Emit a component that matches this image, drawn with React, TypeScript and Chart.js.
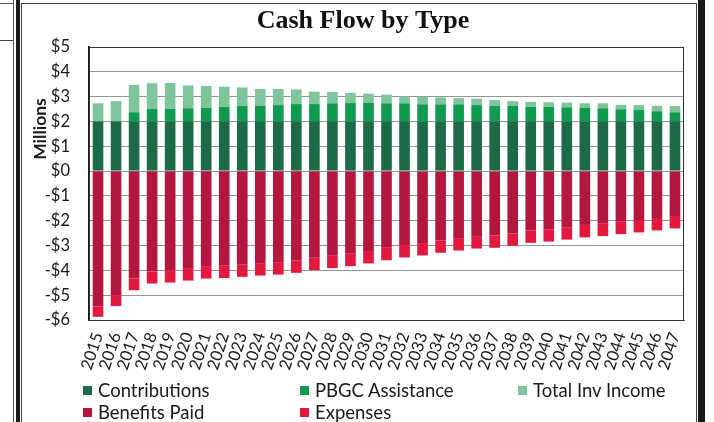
import React, { useEffect, useRef } from "react";
import { Chart, registerables } from "chart.js";

Chart.register(...registerables);

// Plan years on the category axis
const years = [
  "2015", "2016", "2017", "2018", "2019", "2020", "2021", "2022", "2023", "2024", "2025",
  "2026", "2027", "2028", "2029", "2030", "2031", "2032", "2033", "2034", "2035", "2036",
  "2037", "2038", "2039", "2040", "2041", "2042", "2043", "2044", "2045", "2046", "2047",
];

// Inflows, $ millions
const contributions = [
  2.0, 2.0, 2.0, 2.0, 2.0, 2.0, 2.0, 2.0, 2.0, 2.0, 2.0,
  2.0, 2.0, 2.0, 2.0, 2.0, 2.0, 2.0, 2.0, 2.0, 2.0, 2.0,
  2.0, 2.0, 2.0, 2.0, 2.0, 2.0, 2.0, 2.0, 2.0, 2.0, 2.0,
];
const pbgcAssistance = [
  0, 0, 0.37, 0.5, 0.51, 0.53, 0.55, 0.59, 0.63, 0.63, 0.66,
  0.7, 0.7, 0.73, 0.74, 0.76, 0.73, 0.73, 0.69, 0.69, 0.69, 0.66,
  0.63, 0.63, 0.59, 0.59, 0.57, 0.55, 0.53, 0.49, 0.46, 0.41, 0.37,
];
const totalInvIncome = [
  0.73, 0.82, 1.1, 1.04, 1.04, 0.92, 0.88, 0.81, 0.74, 0.68, 0.65,
  0.59, 0.5, 0.46, 0.41, 0.36, 0.35, 0.27, 0.31, 0.28, 0.25, 0.26,
  0.23, 0.19, 0.2, 0.18, 0.19, 0.18, 0.2, 0.18, 0.2, 0.22, 0.25,
];

// Outflows, $ millions
const benefitsPaid = [
  -5.45, -5.0, -4.32, -4.04, -3.99, -3.91, -3.83, -3.81, -3.76, -3.71, -3.67,
  -3.6, -3.49, -3.41, -3.33, -3.22, -3.09, -2.98, -2.9, -2.79, -2.7, -2.62,
  -2.59, -2.51, -2.39, -2.34, -2.26, -2.17, -2.12, -2.04, -1.97, -1.89, -1.81,
];
const expenses = [
  -0.42, -0.44, -0.48, -0.49, -0.5, -0.5, -0.5, -0.5, -0.5, -0.5, -0.5,
  -0.5, -0.5, -0.5, -0.5, -0.5, -0.5, -0.5, -0.5, -0.5, -0.5, -0.5,
  -0.5, -0.5, -0.5, -0.5, -0.5, -0.5, -0.5, -0.5, -0.5, -0.5, -0.5,
];

const seriesLabels = ["Contributions", "PBGC Assistance", "Total Inv Income", "Benefits Paid", "Expenses"];
const seriesColors = ["#1d6a46", "#0f9a50", "#7fc59c", "#b3173d", "#e2183f"];

const yMin = -6;
const yMax = 5;

const SANS = "Lato, 'Open Sans', sans-serif";

const fmtMoney = (v: number) => (v < 0 ? `-$${Math.abs(v)}` : `$${v}`);

// Box around the plot area plus the rotated "Millions" caption
const framePlugin = {
  id: "frame",
  afterDraw(chart: any) {
    const { ctx, chartArea } = chart;
    ctx.save();
    ctx.strokeStyle = "#333";
    ctx.lineWidth = 1;
    ctx.strokeRect(chartArea.left + 0.5, chartArea.top + 0.5, chartArea.right - chartArea.left - 1, chartArea.bottom - chartArea.top);
    ctx.translate(18, 125);
    ctx.rotate(-Math.PI / 2);
    ctx.fillStyle = "#1a1a1a";
    ctx.font = `bold 17.5px ${SANS}`;
    ctx.textAlign = "center";
    ctx.textBaseline = "middle";
    ctx.fillText("Millions", 0, 0);
    ctx.restore();
  },
};

function CashFlowChart() {
  const canvasRef = useRef<HTMLCanvasElement | null>(null);

  useEffect(() => {
    if (!canvasRef.current) return;
    const seriesValues = [contributions, pbgcAssistance, totalInvIncome, benefitsPaid, expenses];
    const chart = new Chart(canvasRef.current, {
      type: "bar",
      data: {
        labels: years,
        datasets: seriesValues.map((vals, i) => ({
          label: seriesLabels[i],
          data: vals,
          backgroundColor: seriesColors[i],
          borderWidth: 0,
          categoryPercentage: 1,
          barPercentage: 0.59,
        })),
      },
      options: {
        animation: false,
        responsive: false,
        maintainAspectRatio: false,
        layout: { padding: { left: 20, right: 12, top: 0, bottom: 0 } },
        plugins: {
          legend: { display: false },
          tooltip: { enabled: false },
          title: {
            display: true,
            text: "Cash Flow by Type",
            color: "#111",
            font: { family: "'Liberation Serif', 'Times New Roman', serif", size: 26, weight: "bold" },
            padding: { top: 2, bottom: 9.8 },
          },
        },
        scales: {
          x: {
            stacked: true,
            grid: { display: false },
            border: { display: true, color: "#666", width: 1 },
            ticks: {
              color: "#1a1a1a",
              font: { family: SANS, size: 16.5 },
              minRotation: 72,
              maxRotation: 72,
              autoSkip: false,
              padding: 2,
            },
            afterFit(scale: any) {
              scale.height = 60;
            },
          },
          y: {
            stacked: true,
            min: yMin,
            max: yMax,
            grid: { color: "#969696", lineWidth: 1, drawTicks: false },
            border: { display: true, color: "#1a1a1a", width: 2 },
            ticks: {
              stepSize: 1,
              color: "#1a1a1a",
              font: { family: SANS, size: 16.5 },
              padding: 19,
              callback: (v: any) => fmtMoney(Number(v)),
            },
            afterFit(scale: any) {
              scale.width = 47;
            },
          },
        },
      },
      plugins: [framePlugin],
    });
    return () => chart.destroy();
  }, []);

  return <canvas ref={canvasRef} width={674} height={376} style={{ display: "block", width: 674, height: 376 }} />;
}

const legendCols = [83, 300, 518];
const legendRows = [390, 412];

export default function App() {
  return (
    <div style={{ position: "fixed", left: 0, top: 0, width: 714, height: 422, background: "#fff", overflow: "hidden" }}>
      {/* neighbouring page panel edge */}
      <div style={{ position: "absolute", left: 0, top: 3, width: 13, height: 1, background: "#555" }} />
      <div style={{ position: "absolute", left: 0, top: 40, width: 13, height: 1, background: "#444" }} />
      <div style={{ position: "absolute", left: 13, top: 0, width: 1, height: 422, background: "#555" }} />
      <div style={{ position: "absolute", left: 16, top: 0, width: 4, height: 422, background: "#1c1c1c" }} />
      {/* chart panel */}
      <div style={{ position: "absolute", left: 21, top: 3, width: 676, height: 430, borderLeft: "1px solid #444", borderTop: "1px solid #444", borderRight: "1px solid #444", boxSizing: "border-box" }} />
      <div style={{ position: "absolute", left: 698, top: 0, width: 7, height: 422, background: "#1a1a1a" }} />
      <div style={{ position: "absolute", left: 22, top: 4 }}>
        <CashFlowChart />
      </div>
      {seriesLabels.map((label, i) => {
        const left = legendCols[i % 3];
        const top = legendRows[Math.floor(i / 3)];
        return (
          <div key={label} style={{ position: "absolute", left, top: top - 11, height: 22, display: "flex", alignItems: "center", fontFamily: SANS, fontSize: 18.5, color: "#1a1a1a", whiteSpace: "nowrap" }}>
            <span style={{ display: "inline-block", width: 9, height: 9, background: seriesColors[i], marginRight: 6 }} />
            {label}
          </div>
        );
      })}
    </div>
  );
}
